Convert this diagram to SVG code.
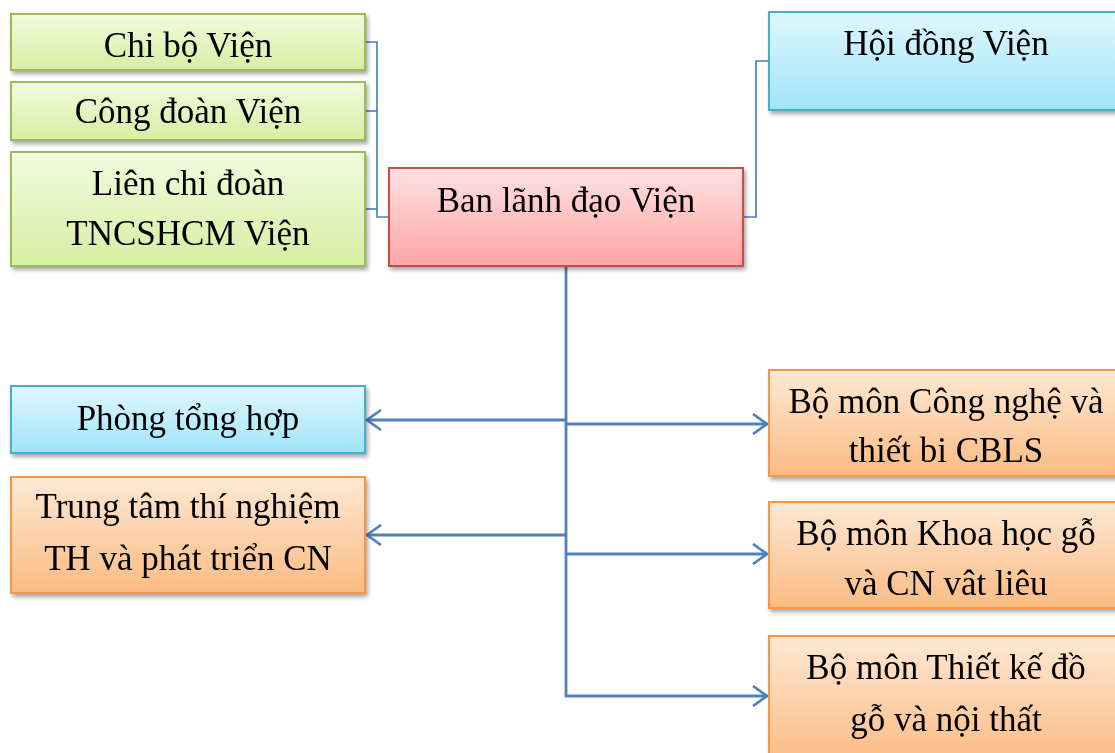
<svg xmlns="http://www.w3.org/2000/svg" width="1115" height="753" viewBox="0 0 1115 753">
<style>
text{font-family:"Liberation Serif","Times New Roman",serif;font-size:35px;fill:#000;text-anchor:middle}
.green{fill:url(#gGreen);stroke:#9bbb59;stroke-width:2}
.red{fill:url(#gRed);stroke:#c0504d;stroke-width:2}
.blue{fill:url(#gBlue);stroke:#4bacc6;stroke-width:2}
.orange{fill:url(#gOrange);stroke:#f79646;stroke-width:2}
.box{filter:url(#sh)}
.thin{fill:none;stroke:#4f81bd;stroke-width:1.7}
.thick{fill:none;stroke:#4f81bd;stroke-width:2.8}
</style>
<defs>
<linearGradient id="gGreen" x1="0" y1="0" x2="0" y2="1"><stop offset="0" stop-color="#f2fadf"/><stop offset="1" stop-color="#d6efa2"/></linearGradient>
<linearGradient id="gRed" x1="0" y1="0" x2="0" y2="1"><stop offset="0" stop-color="#ffe1e1"/><stop offset="1" stop-color="#ffa5a5"/></linearGradient>
<linearGradient id="gBlue" x1="0" y1="0" x2="0" y2="1"><stop offset="0" stop-color="#e0f7fd"/><stop offset="1" stop-color="#9fe4fa"/></linearGradient>
<linearGradient id="gOrange" x1="0" y1="0" x2="0" y2="1"><stop offset="0" stop-color="#fde8d4"/><stop offset="1" stop-color="#fbbb82"/></linearGradient>
<filter id="sh" x="-10%" y="-10%" width="125%" height="130%"><feDropShadow dx="2" dy="3" stdDeviation="2" flood-color="#000" flood-opacity="0.35"/></filter>
<marker id="arr" viewBox="0 0 16 22" refX="15" refY="11" markerWidth="16" markerHeight="22" markerUnits="userSpaceOnUse" orient="auto"><path d="M1,1 L15,11 L1,21" fill="none" stroke="#4f81bd" stroke-width="2.6"/></marker>
</defs>

<g id="connectors">
<path class="thin" d="M365,42 H377 V217 H389"/>
<path class="thin" d="M365,111 H377"/>
<path class="thin" d="M365,209 H377"/>
<path class="thin" d="M743,217 H756 V61 H769"/>
<path class="thick" d="M566,266 V696 H767" marker-end="url(#arr)"/>
<path class="thick" d="M566,420 H367" marker-end="url(#arr)"/>
<path class="thick" d="M566,535 H367" marker-end="url(#arr)"/>
<path class="thick" d="M566,424 H767" marker-end="url(#arr)"/>
<path class="thick" d="M566,554 H767" marker-end="url(#arr)"/>
</g>

<g id="chibo" class="box"><rect class="green" x="11" y="14" width="354" height="56"/><text x="188" y="57">Chi bộ Viện</text></g>
<g id="congdoan" class="box"><rect class="green" x="11" y="82" width="354" height="58"/><text x="188" y="123">Công đoàn Viện</text></g>
<g id="lienchidoan" class="box"><rect class="green" x="11" y="152" width="354" height="114"/><text x="188" y="195">Liên chi đoàn</text><text x="188" y="245">TNCSHCM Viện</text></g>
<g id="banlanhdao" class="box"><rect class="red" x="389" y="168" width="354" height="98"/><text x="566" y="212">Ban lãnh đạo Viện</text></g>
<g id="hoidong" class="box"><rect class="blue" x="769" y="12" width="356" height="98"/><text x="946" y="55">Hội đồng Viện</text></g>
<g id="phongtonghop" class="box"><rect class="blue" x="11" y="386" width="354" height="67"/><text x="188" y="430">Phòng tổng hợp</text></g>
<g id="trungtam" class="box"><rect class="orange" x="11" y="477" width="354" height="116"/><text x="188" y="518">Trung tâm thí nghiệm</text><text x="188" y="570">TH và phát triển CN</text></g>
<g id="bmcongnghe" class="box"><rect class="orange" x="769" y="370" width="356" height="106"/><text x="946" y="413">Bộ môn Công nghệ và</text><text x="946" y="462">thiết bi CBLS</text></g>
<g id="bmkhoahoc" class="box"><rect class="orange" x="769" y="502" width="356" height="106"/><text x="946" y="545">Bộ môn Khoa học gỗ</text><text x="946" y="595">và CN vât liêu</text></g>
<g id="bmthietke" class="box"><rect class="orange" x="769" y="636" width="356" height="130"/><text x="946" y="679">Bộ môn Thiết kế đồ</text><text x="946" y="731">gỗ và nội thất</text></g>
</svg>
